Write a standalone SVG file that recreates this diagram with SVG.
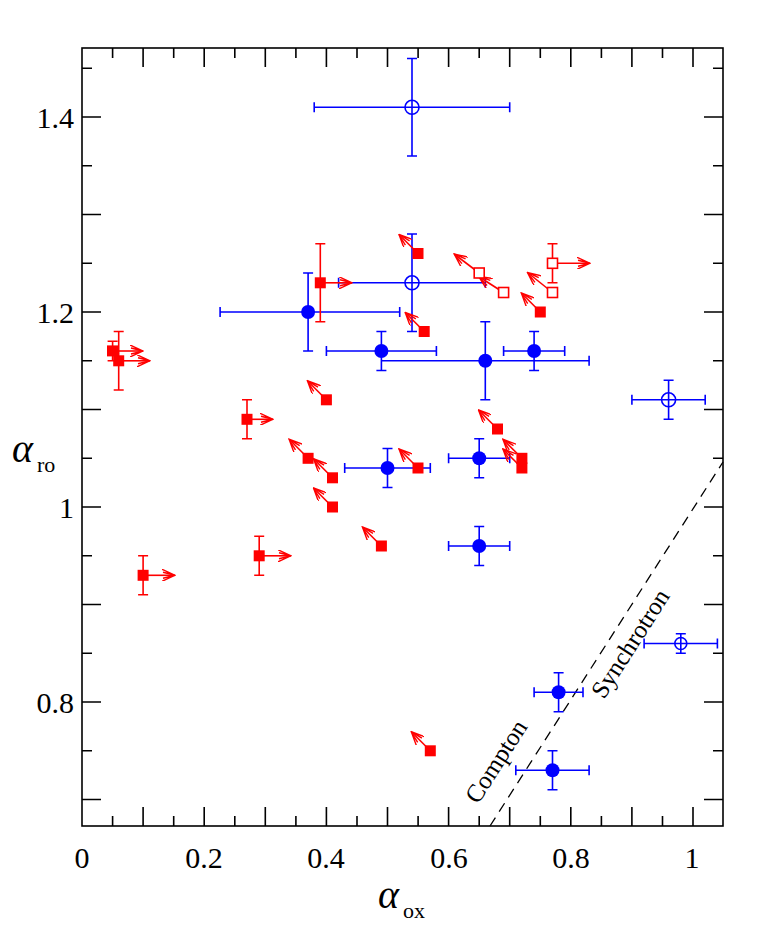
<svg xmlns="http://www.w3.org/2000/svg" width="763" height="926" viewBox="0 0 763 926">
<style>
.ax{stroke:#000;stroke-width:1.6;fill:none}
.tl{font-family:"Liberation Serif",serif;font-size:30px;fill:#000}
.b{stroke:#0000ff;stroke-width:1.6;fill:none}
.bf{fill:#0000ff}
.bo{fill:#fff;stroke:#0000ff;stroke-width:1.6}
.r{stroke:#ff0000;stroke-width:1.6;fill:none}
.rf{fill:#ff0000}
.ro{fill:#fff;stroke:#ff0000;stroke-width:1.6}
.ar{stroke:#ff0000;stroke-width:1.6;fill:none;marker-end:url(#ah)}
</style>
<defs>
<marker id="ah" markerWidth="14" markerHeight="12" refX="13" refY="6" orient="auto" markerUnits="userSpaceOnUse">
<path d="M0,0 L13,6 L0,12 M1,3 L13,6 L1,9" stroke="#ff0000" stroke-width="1.4" fill="none"/>
</marker>
</defs>
<rect width="763" height="926" fill="#fff"/>
<g id="axes">
<rect x="82" y="48" width="641" height="778" class="ax"/>
<path class="ax" d="M143.1,826v-19M204.2,826v-19M265.3,826v-19M326.4,826v-19M387.5,826v-19M448.6,826v-19M509.7,826v-19M570.8,826v-19M631.9,826v-19M693,826v-19
M112.6,826v-10M173.7,826v-10M234.8,826v-10M295.9,826v-10M357,826v-10M418.1,826v-10M479.2,826v-10M540.3,826v-10M601.4,826v-10M662.5,826v-10
M143.1,48v19M204.2,48v19M265.3,48v19M326.4,48v19M387.5,48v19M448.6,48v19M509.7,48v19M570.8,48v19M631.9,48v19M693,48v19
M112.6,48v10M173.7,48v10M234.8,48v10M295.9,48v10M357,48v10M418.1,48v10M479.2,48v10M540.3,48v10M601.4,48v10M662.5,48v10
M82,799.5h19M82,702h19M82,604.5h19M82,507h19M82,409.5h19M82,312h19M82,214.5h19M82,117h19
M82,750.8h10M82,653.3h10M82,555.8h10M82,458.3h10M82,360.8h10M82,263.3h10M82,165.8h10M82,68.3h10
M723,799.5h-19M723,702h-19M723,604.5h-19M723,507h-19M723,409.5h-19M723,312h-19M723,214.5h-19M723,117h-19
M723,750.8h-10M723,653.3h-10M723,555.8h-10M723,458.3h-10M723,360.8h-10M723,263.3h-10M723,165.8h-10M723,68.3h-10"/>
<g class="tl" text-anchor="middle">
<text x="82" y="868">0</text><text x="204" y="868">0.2</text><text x="326" y="868">0.4</text><text x="449" y="868">0.6</text><text x="571" y="868">0.8</text><text x="692" y="868">1</text>
</g>
<g class="tl" text-anchor="end">
<text x="74" y="128">1.4</text><text x="74" y="323">1.2</text><text x="74" y="518">1</text><text x="74" y="713">0.8</text>
</g>
<text class="tl" x="378" y="908" font-style="italic" style="font-size:40px">α</text><text class="tl" x="403" y="918" style="font-size:22px">ox</text>
<text class="tl" x="12" y="462" font-style="italic" style="font-size:40px">α</text><text class="tl" x="37" y="472" style="font-size:22px">ro</text>
</g>
<g id="model">
<path d="M490,826 L723,462" stroke="#000" stroke-width="1.3" stroke-dasharray="10,7" fill="none"/>
<text class="tl" style="font-size:25px" transform="translate(478,805) rotate(-57.4)">Compton</text>
<text class="tl" style="font-size:25px" transform="translate(604,700) rotate(-57.4)">Synchrotron</text>
</g>
<g id="blue">
<path class="b" d="M220.1,312H399.7M220.1,307v10M399.7,307v10M308.1,273V351M303.1,273h10M303.1,351h10"/><circle class="bf" cx="308.1" cy="312" r="7"/>
<path class="b" d="M326.4,351H436.4M326.4,346v10M436.4,346v10M381.4,331.5V370.5M376.4,331.5h10M376.4,370.5h10"/><circle class="bf" cx="381.4" cy="351" r="7"/>
<path class="b" d="M381.4,360.8H589.1M589.1,355.8v10M485.3,321.8V399.8M480.3,321.8h10M480.3,399.8h10"/><circle class="bf" cx="485.3" cy="360.8" r="7"/>
<path class="b" d="M503.6,351H564.7M503.6,346v10M564.7,346v10M534.1,331.5V370.5M529.1,331.5h10M529.1,370.5h10"/><circle class="bf" cx="534.1" cy="351" r="7"/>
<path class="b" d="M344.7,468H430.3M344.7,463v10M430.3,463v10M387.5,448.5V487.5M382.5,448.5h10M382.5,487.5h10"/><circle class="bf" cx="387.5" cy="468" r="7"/>
<path class="b" d="M448.6,458.3H509.7M448.6,453.3v10M509.7,453.3v10M479.2,438.8V477.8M474.2,438.8h10M474.2,477.8h10"/><circle class="bf" cx="479.2" cy="458.3" r="7"/>
<path class="b" d="M448.6,546H509.7M448.6,541v10M509.7,541v10M479.2,526.5V565.5M474.2,526.5h10M474.2,565.5h10"/><circle class="bf" cx="479.2" cy="546" r="7"/>
<path class="b" d="M534.1,692.3H583M534.1,687.3v10M583,687.3v10M558.6,672.8V711.8M553.6,672.8h10M553.6,711.8h10"/><circle class="bf" cx="558.6" cy="692.3" r="7"/>
<path class="b" d="M515.8,770.3H589.1M515.8,765.3v10M589.1,765.3v10M552.5,750.8V789.8M547.5,750.8h10M547.5,789.8h10"/><circle class="bf" cx="552.5" cy="770.3" r="7"/>
<circle class="bo" cx="412" cy="107.3" r="7"/><path class="b" d="M314.2,107.3H509.7M314.2,102.3v10M509.7,102.3v10M412,58.5V156M407,58.5h10M407,156h10"/>
<circle class="bo" cx="412" cy="282.8" r="7"/><path class="b" d="M338.6,282.8H485.3M338.6,277.8v10M485.3,277.8v10M412,234V331.5M407,234h10M407,331.5h10"/>
<circle class="bo" cx="668.6" cy="399.8" r="7"/><path class="b" d="M631.9,399.8H705.2M631.9,394.8v10M705.2,394.8v10M668.6,380.3V419.3M663.6,380.3h10M663.6,419.3h10"/>
<circle class="bo" cx="680.8" cy="643.5" r="6"/><path class="b" d="M644.1,643.5H717.4M644.1,638.5v10M717.4,638.5v10M680.8,633.8V653.3M675.8,633.8h10M675.8,653.3h10"/>
</g>
<g id="red">
<path class="r" d="M112.6,341.3V360.8M107.6,341.3h10M107.6,360.8h10M118.7,331.5V390M113.7,331.5h10M113.7,390h10M143.1,555.8V594.8M138.1,555.8h10M138.1,594.8h10M247,399.8V438.8M242,399.8h10M242,438.8h10M259.2,536.3V575.3M254.2,536.3h10M254.2,575.3h10M320.3,243.8V321.8M315.3,243.8h10M315.3,321.8h10M552.5,243.8V282.8M547.5,243.8h10M547.5,282.8h10"/>
<path class="ar" d="M112.6,351H143"/><path class="ar" d="M118.7,360.8H150"/>
<path class="ar" d="M143.1,575.3H175"/><path class="ar" d="M247,419.3H273"/>
<path class="ar" d="M259.2,555.8H291"/><path class="ar" d="M320.3,282.8H352"/>
<path class="ar" d="M552.5,263.3H590"/>
<path class="ar" d="M326.4,399.8l-19,-19"/><path class="ar" d="M308.1,458.3l-19,-19"/>
<path class="ar" d="M332.5,477.8l-19,-19"/><path class="ar" d="M332.5,507l-19,-19"/>
<path class="ar" d="M381.4,546l-19,-19"/><path class="ar" d="M418,253.5l-19,-19"/>
<path class="ar" d="M424.2,331.5l-19,-19"/><path class="ar" d="M418,468l-19,-19"/>
<path class="ar" d="M497.5,429l-19,-19"/><path class="ar" d="M521.9,458.3l-19,-19"/>
<path class="ar" d="M521.9,468l-19,-19"/><path class="ar" d="M540.3,312l-19,-19"/>
<path class="ar" d="M430.3,750.8l-19,-19"/>
<path class="ar" d="M479.2,273l-25,-19"/><path class="ar" d="M503.6,292.5l-25,-16"/>
<path class="ar" d="M552.5,292.5l-25,-20"/>
<g class="rf">
<rect x="107" y="345.4" width="11" height="11"/><rect x="113.2" y="355.3" width="11" height="11"/>
<rect x="137.6" y="569.8" width="11" height="11"/><rect x="241.5" y="413.8" width="11" height="11"/>
<rect x="253.7" y="550.3" width="11" height="11"/><rect x="314.8" y="277.3" width="11" height="11"/>
<rect x="320.9" y="394.3" width="11" height="11"/><rect x="302.6" y="452.8" width="11" height="11"/>
<rect x="327" y="472.3" width="11" height="11"/><rect x="327" y="501.5" width="11" height="11"/>
<rect x="375.9" y="540.5" width="11" height="11"/><rect x="412.5" y="248" width="11" height="11"/>
<rect x="418.7" y="326" width="11" height="11"/><rect x="412.5" y="462.5" width="11" height="11"/>
<rect x="492" y="423.5" width="11" height="11"/><rect x="516.4" y="452.8" width="11" height="11"/>
<rect x="516.4" y="462.5" width="11" height="11"/><rect x="534.8" y="306.5" width="11" height="11"/>
<rect x="424.8" y="745.3" width="11" height="11"/>
</g>
<rect class="ro" x="474.2" y="268" width="10" height="10"/><rect class="ro" x="498.6" y="287.5" width="10" height="10"/>
<rect class="ro" x="547.5" y="258.3" width="10" height="10"/><rect class="ro" x="547.5" y="287.5" width="10" height="10"/>
</g>
</svg>
